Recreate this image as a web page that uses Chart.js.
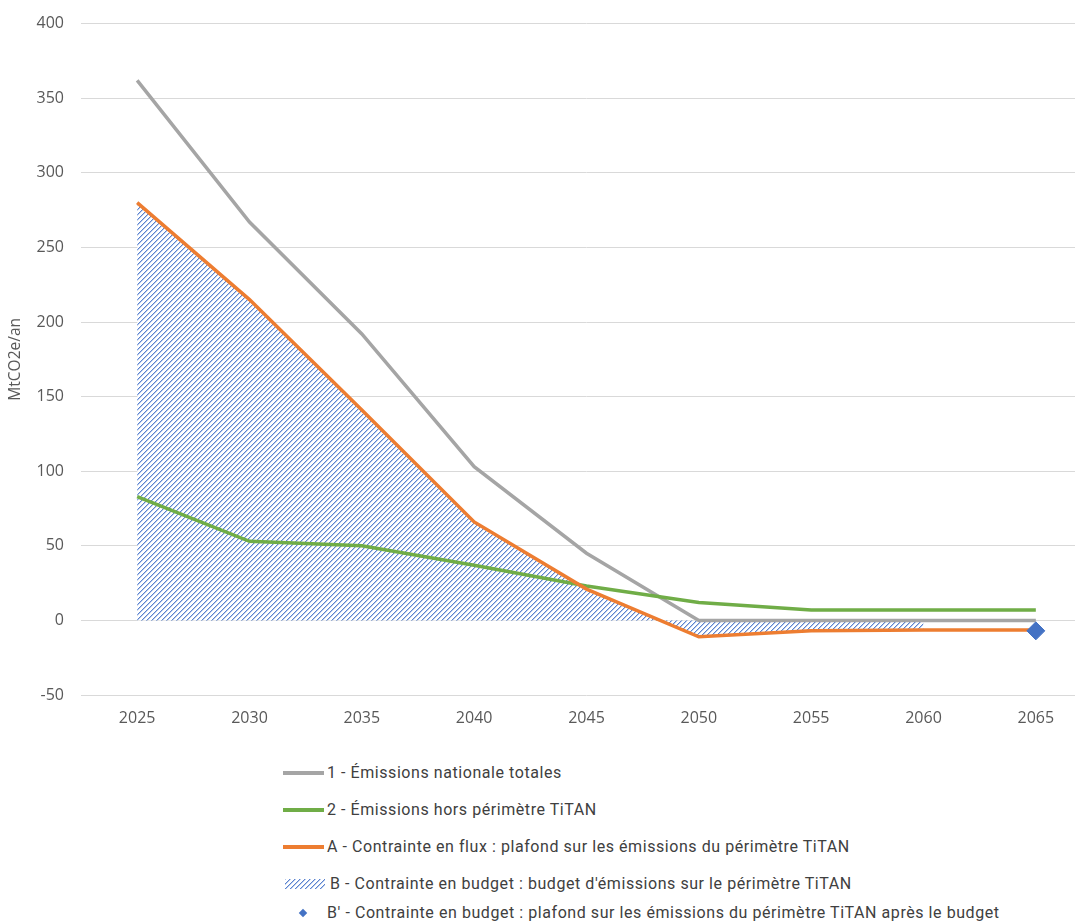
<!DOCTYPE html>
<html><head><meta charset="utf-8">
<script src="https://cdn.jsdelivr.net/npm/chart.js@4.4.0/dist/chart.umd.min.js"></script>
<style>
html,body{margin:0;padding:0;background:#fff;overflow:hidden;width:1075px;height:922px;}
#wrap{position:relative;width:1075px;height:922px;overflow:hidden;}
#c{position:absolute;left:0;top:-3px;}
#legend{position:absolute;left:283px;top:760px;font-family:"Roboto","Open Sans",sans-serif;font-size:16px;letter-spacing:0.56px;color:#404040;}
.row{position:absolute;left:0;white-space:nowrap;height:20px;}
.sw{position:absolute;left:0;}
.txt{position:absolute;left:44px;top:0;line-height:20px;}
</style></head>
<body><div id="wrap"><canvas id="c" width="1102" height="743"></canvas><div id="legend"></div></div>
<script>
const categories = ['2025','2030','2035','2040','2045','2050','2055','2060','2065'];
const nationalTotal = [362, 267, 192, 103, 45, 0, 0, 0, 0];
const horsTitan = [83, 53, 50, 37, 23, 12, 7, 7, 7];
const contrainteFlux = [280, 215, 141, 66, 21, -11, -7, -6.5, -6.5];
const budgetTitan = [280, 215, 141, 66, 21, -11, -7, -6.5, null];
const plafondApresBudget = [null, null, null, null, null, null, null, null, -7];
const yTicks = [-50, 0, 50, 100, 150, 200, 250, 300, 350, 400];
const labels = ['1 - Émissions nationale totales','2 - Émissions hors périmètre TiTAN','A - Contrainte en flux : plafond sur les émissions du périmètre TiTAN',"B - Contrainte en budget : budget d'émissions sur le périmètre TiTAN","B' - Contrainte en budget : plafond sur les émissions du périmètre TiTAN après le budget"];

function hatchTile(){
  const n=5;
  const p=document.createElement('canvas'); p.width=n; p.height=n;
  const g=p.getContext('2d');
  g.fillStyle='#ffffff'; g.fillRect(0,0,n,n);
  for(let i=0;i<n;i++){
    g.fillStyle='#5A82CF'; g.fillRect(i,n-1-i,1,1);
    g.fillStyle='#B9CBEC'; g.fillRect((i+1)%n,n-1-i,1,1);
  }
  return p;
}
const tile=hatchTile();
const ctx=document.getElementById('c').getContext('2d');
const pat=ctx.createPattern(tile,'repeat');
const chart=new Chart(ctx,{
  type:'line',
  data:{labels:categories,datasets:[
    {label:labels[0],data:nationalTotal,borderColor:'#A5A5A5',borderWidth:3.5,pointRadius:0,tension:0,order:2},
    {label:labels[1],data:horsTitan,borderColor:'#70AD47',borderWidth:3.5,pointRadius:0,tension:0,order:1},
    {label:labels[2],data:contrainteFlux,borderColor:'#ED7D31',borderWidth:3.5,pointRadius:0,tension:0,order:0},
    {label:labels[3],data:budgetTitan,borderWidth:0,borderColor:'rgba(0,0,0,0)',backgroundColor:pat,fill:'origin',pointRadius:0,tension:0,order:5},
    {label:labels[4],data:plafondApresBudget,showLine:false,pointStyle:'rectRot',pointRadius:9,pointBackgroundColor:'#4472C4',pointBorderColor:'#4472C4',order:-1}
  ]},
  options:{
    responsive:false,devicePixelRatio:1,animation:false,
    layout:{padding:{top:10,right:4,left:0,bottom:0}},
    plugins:{legend:{display:false},tooltip:{enabled:false}},
    scales:{
      x:{offset:true,grid:{display:false,drawTicks:false},border:{display:false},
         ticks:{color:'#595959',font:{family:'Open Sans',size:16},padding:14},
         afterFit:s=>{s.height=45;}},
      y:{min:-50,max:400,grid:{color:'#D9D9D9',drawTicks:false},border:{display:false},
         afterBuildTicks:s=>{s.ticks=yTicks.map(v=>({value:v}));},
         ticks:{color:'#595959',font:{family:'Open Sans',size:16},padding:17},
         title:{display:true,text:'MtCO2e/an',color:'#595959',font:{family:'Open Sans',size:15.5},padding:{top:6,bottom:0}},
         afterFit:s=>{s.width=81;}}
    }
  }
});
const lg=document.getElementById('legend');
const rowsY=[13,50,87,124,153];
labels.forEach((t,i)=>{
  const r=document.createElement('div'); r.className='row'; r.style.top=(rowsY[i]-10)+'px';
  const sw=document.createElement('div'); sw.className='sw';
  if(i<3){sw.style.cssText+='top:8px;width:41px;height:4px;background:'+['#A5A5A5','#70AD47','#ED7D31'][i];}
  else if(i===3){const c=document.createElement('canvas');c.width=40;c.height=10;c.style.position='absolute';c.style.left='0';c.style.top='0';const g=c.getContext('2d');g.fillStyle=g.createPattern(tile,'repeat');g.fillRect(0,0,40,10);sw.appendChild(c);sw.style.top='5px';sw.style.left='2px';}
  else {sw.style.cssText+='top:7px;left:17px;width:6px;height:6px;background:#4472C4;transform:rotate(45deg);';}
  const tx=document.createElement('div'); tx.className='txt'; tx.textContent=t;
  if(i===3) tx.style.left='47px';
  r.appendChild(sw); r.appendChild(tx); lg.appendChild(r);
});
</script></body></html>
